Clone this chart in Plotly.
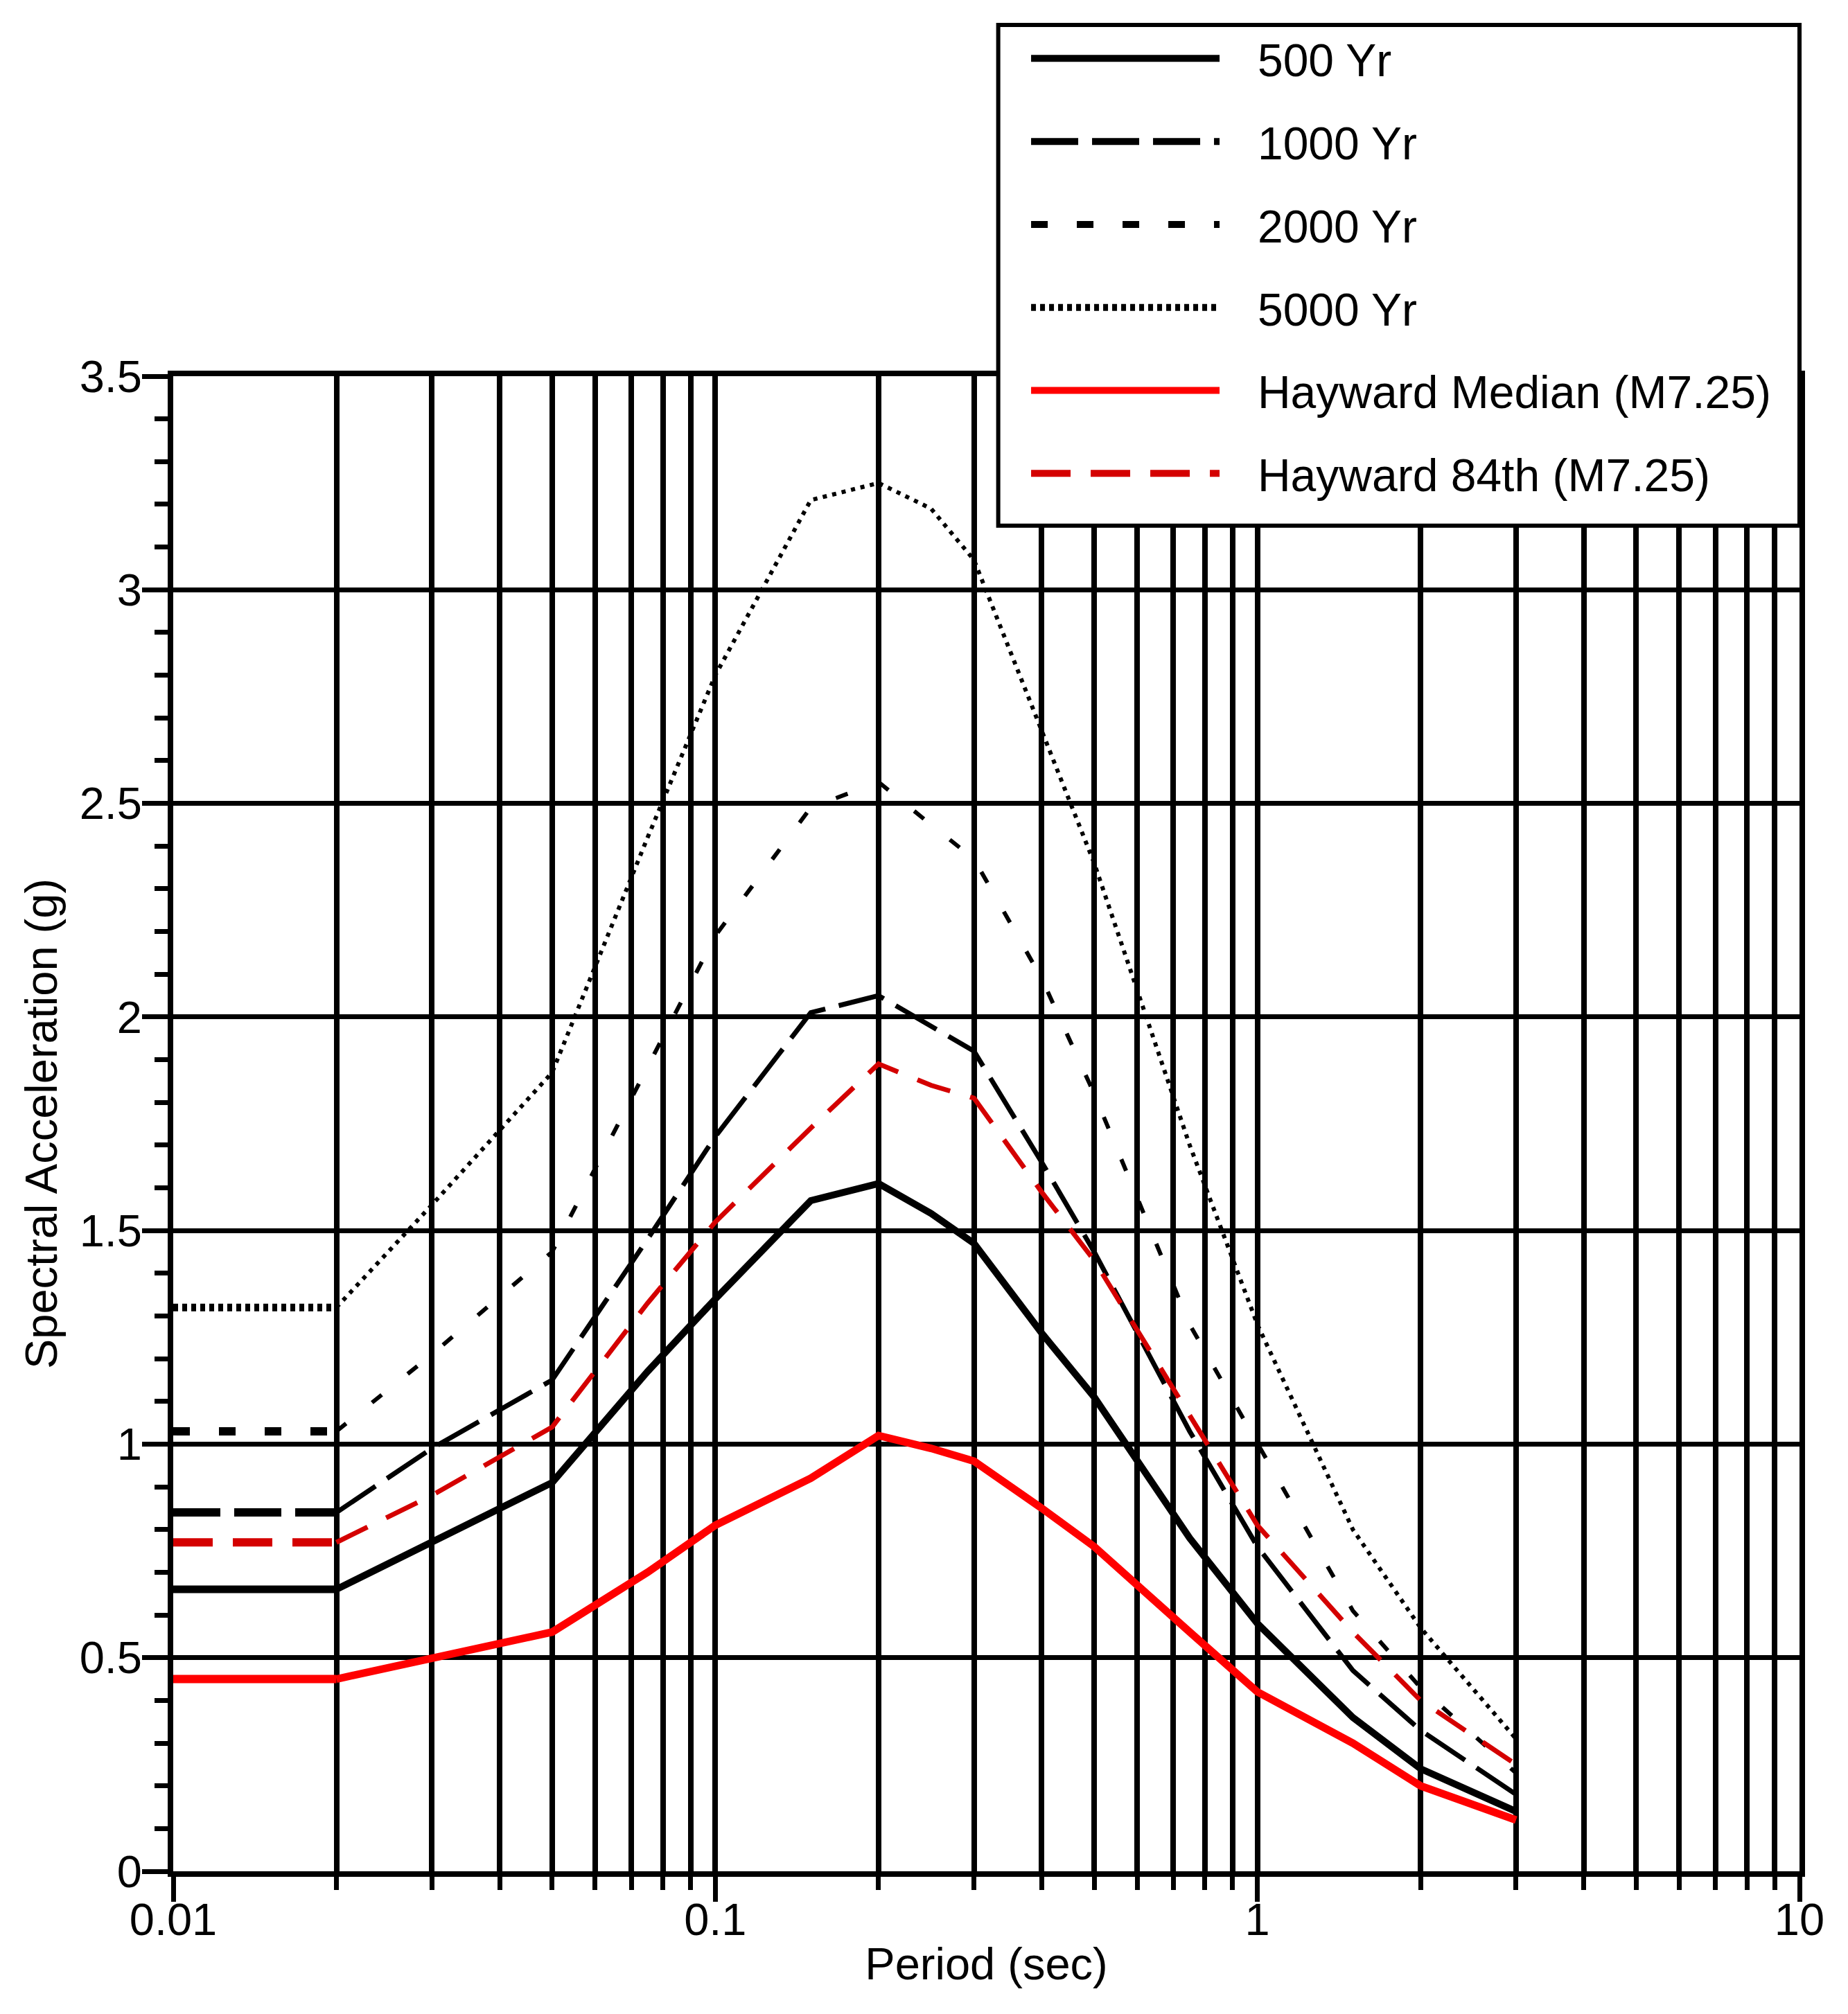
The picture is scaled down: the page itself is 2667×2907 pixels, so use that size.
"""
Spectral acceleration vs period: uniform hazard spectra (500-5000 yr)
against the Hayward M7.25 deterministic median / 84th spectra.
"""
import plotly.graph_objects as go

# -----------------------------------------------------------------------------
# Data
# -----------------------------------------------------------------------------
PERIOD = [0.01, 0.02, 0.03, 0.05, 0.075, 0.1, 0.15, 0.2, 0.25, 0.3, 0.4, 0.5,
          0.75, 1.0, 1.5, 2.0, 3.0]

SA_500 = [0.66, 0.66, 0.77, 0.91, 1.17, 1.34, 1.57, 1.61, 1.54, 1.47, 1.26, 1.11,
          0.78, 0.58, 0.36, 0.24, 0.14]
SA_1000 = [0.84, 0.84, 0.99, 1.15, 1.48, 1.72, 2.01, 2.05, 1.98, 1.92, 1.66, 1.45,
           1.03, 0.76, 0.47, 0.33, 0.18]
SA_2000 = [1.03, 1.03, 1.21, 1.45, 1.88, 2.19, 2.49, 2.55, 2.45, 2.37, 2.09, 1.82,
           1.28, 1.00, 0.61, 0.43, 0.23]
SA_5000 = [1.32, 1.32, 1.56, 1.87, 2.42, 2.80, 3.21, 3.25, 3.19, 3.07, 2.67, 2.36,
           1.70, 1.28, 0.80, 0.57, 0.31]
HAY_MED = [0.45, 0.45, 0.50, 0.56, 0.70, 0.81, 0.92, 1.02, 0.99, 0.96, 0.85, 0.76,
           0.56, 0.42, 0.30, 0.20, 0.12]
HAY_84 = [0.77, 0.77, 0.88, 1.04, 1.33, 1.52, 1.74, 1.89, 1.84, 1.81, 1.59, 1.43,
          1.07, 0.81, 0.56, 0.40, 0.25]

NAMES = ["500 Yr", "1000 Yr", "2000 Yr", "5000 Yr",
         "Hayward Median (M7.25)", "Hayward 84th (M7.25)"]
VALUES = [SA_500, SA_1000, SA_2000, SA_5000, HAY_MED, HAY_84]

X_TICKS = [0.01, 0.1, 1, 10]
X_TICKTEXT = ["0.01", "0.1", "1", "10"]

# -----------------------------------------------------------------------------
# Styles: (colour, flat-part width, flat dash, rest width, rest dash)
# the source draws the flat 0.01-0.02 part heavier than the rest
# -----------------------------------------------------------------------------
INK = "#000000"
STYLE = [
    (INK, 11, "solid", 10, "solid"),
    (INK, 12, "68px,20px", 7, "68px,20px"),
    (INK, 12, "24px,42px", 6, "18px,48px"),
    (INK, 11, "7px,6px", 6, "6px,8px"),
    ("#ff0000", 12, "solid", 11, "solid"),
    ("#d40000", 12, "57px,29px", 7, "50px,30px"),
]
FONT = "Liberation Sans, Arial, sans-serif"
GAP = "\u00a0\u00a0\u2009"      # keeps a gap between legend symbol and text

fig = go.Figure()
for i, (name, vals, st) in enumerate(zip(NAMES, VALUES, STYLE)):
    color, w0, d0, w1, d1 = st
    label = GAP + name
    # flat segment (carries the legend entry)
    fig.add_trace(go.Scatter(
        x=PERIOD[:2], y=vals[:2], mode="lines", name=label,
        legendgroup=f"g{i}", showlegend=True,
        line=dict(color=color, width=w0, dash=d0)))
    # rest of the spectrum
    fig.add_trace(go.Scatter(
        x=PERIOD[1:], y=vals[1:], mode="lines", name=label,
        legendgroup=f"g{i}", showlegend=False,
        line=dict(color=color, width=w1, dash=d1)))

minor_x = [k * 10 ** e for e in (-2, -1, 0) for k in range(2, 10)]

# legend frame, drawn as a box so it can sit flush with the plot's right edge
fig.add_shape(type="rect", xref="paper", yref="paper", layer="above",
              x0=0.5073, x1=1.0, y0=0.9000, y1=1.2349,
              fillcolor="white", line=dict(color=INK, width=6))

fig.update_layout(
    width=2667, height=2907,
    paper_bgcolor="white", plot_bgcolor="white",
    margin=dict(l=242, r=78, t=535, b=214),
    font=dict(family=FONT, size=65, color=INK),
    legend=dict(
        x=0.5062, y=1.2382, xanchor="left", yanchor="top",
        bgcolor="rgba(0,0,0,0)", bordercolor="rgba(0,0,0,0)", borderwidth=6,
        font=dict(size=66), itemwidth=272, indentation=39,
        tracegroupgap=31, traceorder="grouped"),
    xaxis=dict(
        type="log", range=[-2, 1],
        tickvals=X_TICKS, ticktext=X_TICKTEXT,
        ticks="outside", ticklen=36, tickwidth=7, tickcolor=INK,
        ticklabelstandoff=-30,
        showgrid=True, gridcolor=INK, gridwidth=8,
        showline=True, linecolor=INK, linewidth=8, mirror=True,
        zeroline=False,
        minor=dict(tickvals=minor_x, ticks="outside", ticklen=19, tickwidth=7,
                   tickcolor=INK, showgrid=True, gridcolor=INK, gridwidth=8),
        title=dict(text="Period (sec)", standoff=8, font=dict(size=65)),
    ),
    yaxis=dict(
        range=[0, 3.5], dtick=0.5, tick0=0,
        ticks="outside", ticklen=37, tickwidth=7, tickcolor=INK,
        ticklabelstandoff=-13,
        showgrid=True, gridcolor=INK, gridwidth=7,
        showline=True, linecolor=INK, linewidth=8, mirror=True,
        zeroline=False,
        minor=dict(dtick=0.1, ticks="outside", ticklen=19, tickwidth=7,
                   tickcolor=INK, showgrid=False),
        title=dict(text="Spectral Acceleration (g)", standoff=14,
                   font=dict(size=65)),
    ),
)

fig.write_html("out.html")
